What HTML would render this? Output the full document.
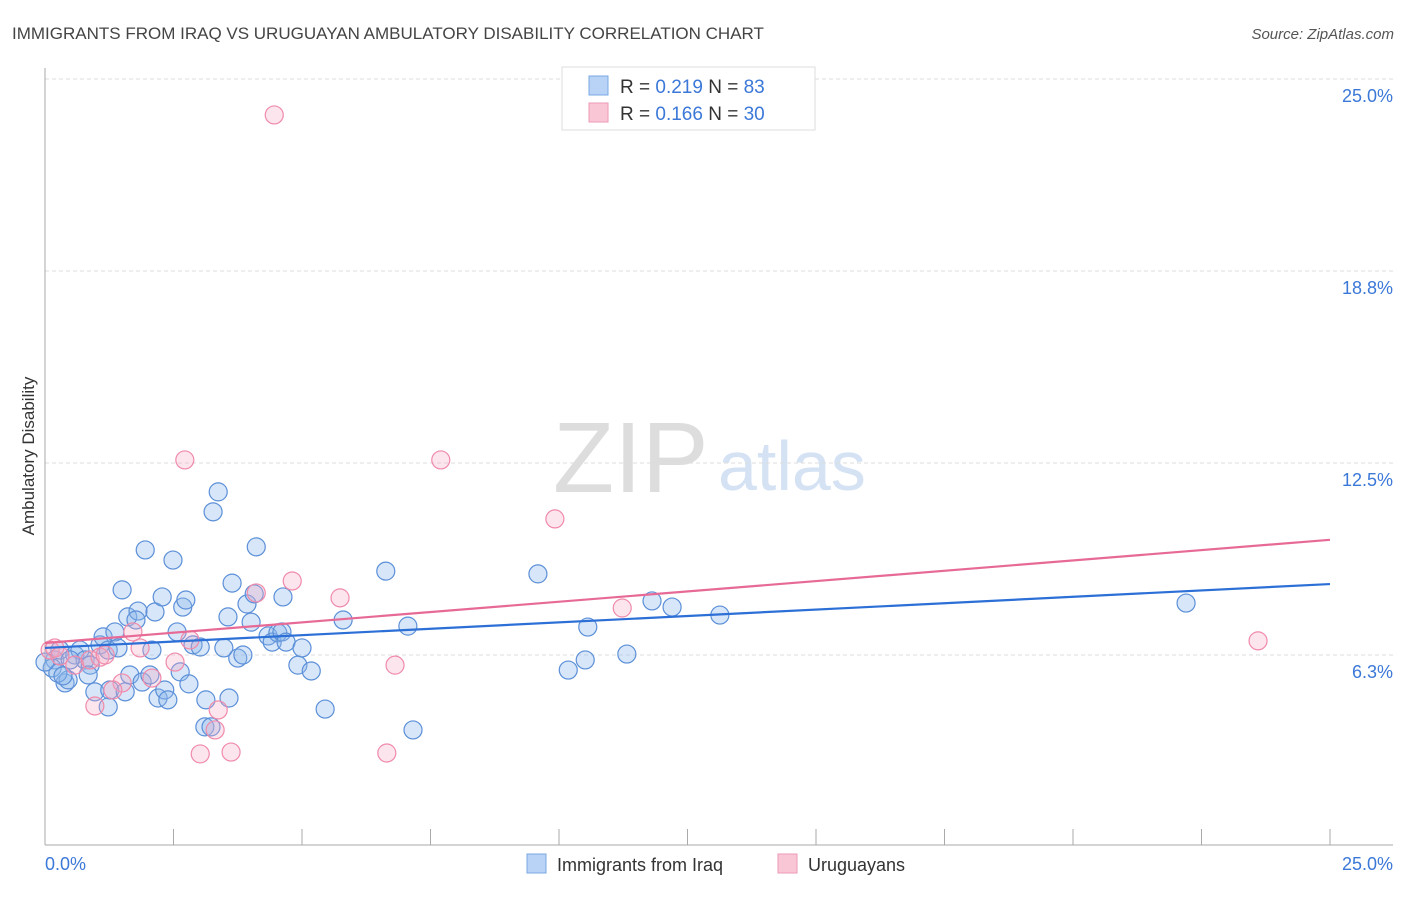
<!DOCTYPE html>
<html><head><meta charset="utf-8"><style>
body{margin:0;background:#fff;font-family:"Liberation Sans",sans-serif}
svg text{font-family:"Liberation Sans",sans-serif}
</style></head><body>
<svg id="chart" width="1406" height="892" xmlns="http://www.w3.org/2000/svg">
<text x="12" y="39" font-size="17" fill="#444">IMMIGRANTS FROM IRAQ VS URUGUAYAN AMBULATORY DISABILITY CORRELATION CHART</text>
<text x="1394" y="39" font-size="15" fill="#555" font-style="italic" text-anchor="end">Source: ZipAtlas.com</text>
<g>
<text x="553" y="492" font-size="100" fill="#ddd" font-family="Liberation Serif,serif">ZIP</text>
<text x="718" y="490" font-size="70" fill="#d4e2f4">atlas</text>
</g>
<text transform="translate(34,456) rotate(-90)" font-size="17" fill="#333" text-anchor="middle">Ambulatory Disability</text>
<g id="grid"></g><g id="axes"></g><g id="marks"></g><g id="lines"></g>
<g>
<rect x="562" y="67" width="253" height="63" fill="#fff" stroke="#ddd"/>
<rect x="589" y="76" width="19" height="19" fill="#b8d3f5" stroke="#7aa7e3"/>
<text x="620" y="93" font-size="19" fill="#333">R = <tspan fill="#3b78d8">0.219</tspan>   N = <tspan fill="#3b78d8">83</tspan></text>
<rect x="589" y="103" width="19" height="19" fill="#f9c6d6" stroke="#ee9ab5"/>
<text x="620" y="120" font-size="19" fill="#333">R = <tspan fill="#3b78d8">0.166</tspan>   N = <tspan fill="#3b78d8">30</tspan></text>
</g>
<g>
<rect x="527" y="854" width="19" height="19" fill="#b8d3f5" stroke="#7aa7e3"/>
<text x="557" y="871" font-size="18" fill="#333">Immigrants from Iraq</text>
<rect x="778" y="854" width="19" height="19" fill="#f9c6d6" stroke="#ee9ab5"/>
<text x="808" y="871" font-size="18" fill="#333">Uruguayans</text>
</g>
</svg>
<script>
const yTicks=[6.25,12.5,18.75,25];
const yTickLabels=["6.3%","12.5%","18.8%","25.0%"];
const xTicks=[2.5,5,7.5,10,12.5,15,17.5,20,22.5,25];
const xEndLabels=["0.0%","25.0%"];
const iraqX=[0.19,0.29,0.14,0.39,0.45,0.25,0.58,0.68,0.78,0.88,0.84,0.97,1.07,1.13,1.23,1.26,1.23,1.36,1.42,1.50,1.56,1.61,1.65,1.81,1.77,1.89,1.95,2.04,2.08,2.14,2.20,2.28,2.33,2.39,2.49,2.57,2.63,2.68,2.74,2.80,2.88,3.02,3.13,3.11,3.23,3.27,3.37,3.48,3.56,3.64,3.58,3.75,3.85,3.93,4.01,4.07,4.11,4.34,4.42,4.53,4.61,4.63,4.69,4.92,5.00,5.18,5.45,5.80,6.63,7.06,7.16,9.59,10.18,10.51,10.56,11.32,11.81,12.20,13.13,22.20,0.35,0.49,0.0];
const iraqY=[6.09,6.41,5.83,5.34,5.44,5.66,6.25,6.41,6.09,5.92,5.60,5.05,6.58,6.84,6.41,5.11,4.56,7.00,6.48,8.37,5.05,7.49,5.60,7.68,7.39,5.37,9.67,5.60,6.41,7.65,4.85,8.14,5.11,4.79,9.34,7.00,5.70,7.81,8.04,5.31,6.58,6.51,4.79,3.91,3.91,10.91,11.56,6.48,7.49,8.59,4.85,6.15,6.25,7.91,7.32,8.24,9.77,6.87,6.67,6.97,7.00,8.14,6.67,5.92,6.48,5.73,4.49,7.39,8.98,7.19,3.81,8.89,5.76,6.09,7.16,6.28,8.01,7.81,7.55,7.94,5.57,6.09,6.02];
const uruX=[4.46,2.72,7.70,9.92,4.81,5.74,4.11,11.23,23.60,0.10,0.19,0.29,0.58,0.88,1.07,1.17,1.71,1.85,2.08,2.53,2.82,1.50,0.97,3.31,3.37,3.02,3.62,6.65,6.81,1.32];
const uruY=[23.83,12.60,12.60,10.68,8.66,8.11,8.27,7.78,6.71,6.41,6.48,6.22,5.92,6.09,6.18,6.25,7.00,6.48,5.50,6.02,6.74,5.34,4.59,3.81,4.46,3.03,3.09,3.06,5.92,5.11];
const iraqTrend=[6.48,8.56];
const uruTrend=[6.64,10.0];
const NS="http://www.w3.org/2000/svg";
const sx=v=>45+v*(1285/25);
const sy=v=>847-v*(768/25);
function mk(t,a,p){const e=document.createElementNS(NS,t);for(const k in a)e.setAttribute(k,a[k]);document.getElementById(p).appendChild(e);return e;}
yTicks.forEach((t,i)=>{
 const g=mk('line',{x1:45,x2:1393,y1:sy(t),y2:sy(t),stroke:'#ddd','stroke-dasharray':'4,3'},'grid');
 
 
 const l=mk('text',{x:1393,y:sy(t)+23,'font-size':18,fill:'#3b78d8','text-anchor':'end'},'axes');
 l.textContent=yTickLabels[i];
 
 
});
const ya=mk('line',{x1:45,x2:45,y1:68,y2:845,stroke:'#aaa'},'axes');


const xa=mk('line',{x1:45,x2:1393,y1:845,y2:845,stroke:'#aaa'},'axes');


xTicks.forEach(t=>{
 const k=mk('line',{x1:sx(t),x2:sx(t),y1:829,y2:845,stroke:'#aaa'},'axes');
 
 
});
[[0,'start'],[25,'end']].forEach((p,i)=>{
 const l=mk('text',{x:i?1393:45,y:870,'font-size':18,fill:'#3b78d8','text-anchor':p[1]},'axes');
 l.textContent=xEndLabels[i];
 
 
});
iraqX.forEach((x,i)=>{
 const c=mk('circle',{cx:sx(x),cy:sy(iraqY[i]),r:9,fill:'rgba(140,182,235,0.35)',stroke:'#5b8fd8','stroke-width':1.2},'marks');
 
 
});
uruX.forEach((x,i)=>{
 const c=mk('circle',{cx:sx(x),cy:sy(uruY[i]),r:9,fill:'rgba(244,170,195,0.3)',stroke:'#f08aaa','stroke-width':1.2},'marks');
 
 
});
const bl=mk('line',{x1:sx(0),x2:sx(25),y1:sy(iraqTrend[0]),y2:sy(iraqTrend[1]),stroke:'#2c6fd6','stroke-width':2.2},'lines');


const pl=mk('line',{x1:sx(0),x2:sx(25),y1:sy(uruTrend[0]),y2:sy(uruTrend[1]),stroke:'#e76a96','stroke-width':2.2},'lines');


</script>
</body></html>
